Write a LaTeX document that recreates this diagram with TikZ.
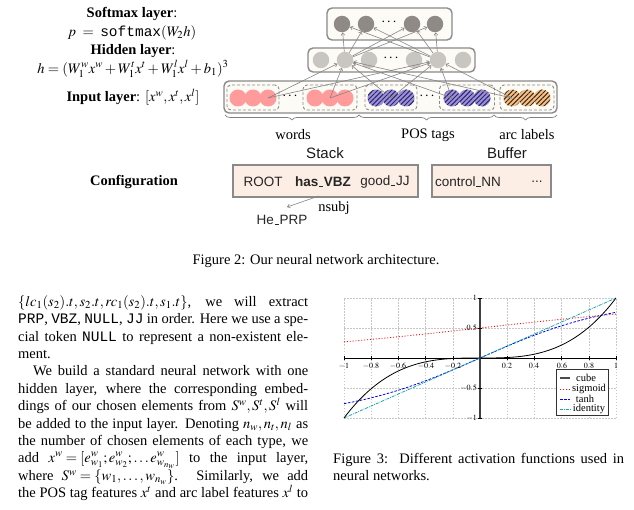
\documentclass[tikz,border=0pt]{standalone}
\usepackage{mathptmx}
\usepackage[no-math]{fontspec}
\setmainfont{Liberation Serif}
\setsansfont{Liberation Sans}
\setmonofont{Liberation Mono}
\usetikzlibrary{arrows.meta,patterns.meta,decorations.pathreplacing}
\definecolor{pinkc}{HTML}{FF9B9B}
\definecolor{purpc}{HTML}{9C8FE3}
\definecolor{orac}{HTML}{F6BF86}
\definecolor{hatchp}{HTML}{2B2A55}
\definecolor{hatcho}{HTML}{3A2A1A}
\definecolor{smc}{HTML}{8F8A86}
\definecolor{hidc}{HTML}{C9C6C1}
\definecolor{boxb}{HTML}{8A8A8A}
\definecolor{boxf}{HTML}{FDFBF6}
\definecolor{stackf}{HTML}{FCEEE4}
\definecolor{arrc}{HTML}{858585}
\definecolor{tealc}{HTML}{1AA5A5}
\newcommand\usc{\kern.05em\rule{.32em}{.06em}\kern.05em}
\begin{document}
\begin{tikzpicture}[x=1pt,y=-1pt,font=\fontsize{14.5}{17.4}\selectfont,
  layerbox/.style={draw=boxb,line width=1.4pt,rounded corners=5pt,fill=boxf,inner sep=0pt},
  grpbox/.style={draw=boxb,line width=0.9pt,rounded corners=4pt,dash pattern=on 3pt off 2pt,inner sep=0pt,minimum height=25pt},
  neur/.style={circle,inner sep=0pt,minimum size=16.5pt},
  smn/.style={neur,fill=smc},
  hdn/.style={neur,fill=hidc},
  inn/.style={circle,inner sep=0pt,minimum size=17pt},
  pkn/.style={inn,fill=pinkc},
  ppn/.style={inn,fill=purpc,postaction={pattern={Lines[angle=45,distance=3.3pt,line width=1pt]},pattern color=hatchp}},
  orn/.style={inn,fill=orac,postaction={pattern={Lines[angle=45,distance=3.3pt,line width=1pt]},pattern color=hatcho}},
  conn/.style={draw=arrc,line width=0.6pt,-{Straight Barb[length=2.5pt,width=4pt]}},
  bracest/.style={draw=gray,line width=0.7pt,decorate,decoration={brace,mirror,amplitude=5pt}},
  cfgbox/.style={draw=boxb,line width=1.1pt,fill=stackf,inner sep=0pt,minimum height=32pt},
  sfl/.style={font=\fontsize{13.5}{16}\selectfont\sffamily,text=black!85},
  sfh/.style={font=\fontsize{15}{17}\selectfont\sffamily,text=black!90},
  gridl/.style={draw=gray!45,line width=0.5pt,dash pattern=on 1.5pt off 1.5pt},
  tickl/.style={font=\fontsize{8}{9}\selectfont,inner sep=0pt},
  legl/.style={font=\fontsize{10.5}{12}\selectfont,inner sep=0pt},
  txtl/.style={anchor=base west,inner sep=0pt}]
\useasboundingbox (0,0) rectangle (634,510);
\fill[white] (0,0) rectangle (634,510);

% ---- left labels of figure 2
\node (smlab) at (132,14) {\textbf{Softmax layer}:};
\node (smeq) at (132,33) {$p \;=\; \texttt{softmax}(W_2h)$};
\node (hlab) at (133,51) {\textbf{Hidden layer}:};
\node (heq) at (133,69) {$h=(W_1^wx^w+W_1^tx^t+W_1^lx^l+b_1)^3$};
\node (ilab) at (133,97) {\textbf{Input layer}: $[x^w,x^t,x^l]$};
\node (cfg) at (134,182) {\textbf{Configuration}};

% ---- layer boxes
\node[layerbox,minimum width=125pt,minimum height=32pt] (smbox) at (389.5,24) {};
\node[layerbox,minimum width=167pt,minimum height=24pt] (hbox) at (391.5,60) {};
\node[layerbox,minimum width=333pt,minimum height=32pt] (inbox) at (390.5,97) {};

% ---- softmax neurons
\node[smn] (s1) at (342,24) {};
\node[smn] (s2) at (366,24) {};
\node[smn] (s3) at (412,24) {};
\node[smn] (s4) at (435,24) {};
\node (sdots) at (389,22) {$\cdots$};
% ---- hidden neurons
\node[hdn] (h1) at (321,60) {};
\node[hdn] (h2) at (345,60) {};
\node[hdn] (h3) at (369,60) {};
\node[hdn] (h4) at (414,60) {};
\node[hdn] (h5) at (438,60) {};
\node[hdn] (h6) at (463,60) {};
\node (hdots) at (391,58) {$\cdots$};

% ---- input groups
\node[grpbox,minimum width=52pt] (g1) at (253,97.5) {};
\node[grpbox,minimum width=54pt] (g2) at (330,97.5) {};
\node[grpbox,minimum width=52pt] (g3) at (391,97.5) {};
\node[grpbox,minimum width=55pt] (g4) at (467,97.5) {};
\node[grpbox,minimum width=54pt] (g5) at (527,97.5) {};
\node[pkn] (p1) at (238,98) {};
\node[pkn] (p2) at (253,98) {};
\node[pkn] (p3) at (268,98) {};
\node[pkn] (p4) at (315,98) {};
\node[pkn] (p5) at (330,98) {};
\node[pkn] (p6) at (345,98) {};
\node[ppn] (u1) at (376,98) {};
\node[ppn] (u2) at (391,98) {};
\node[ppn] (u3) at (406,98) {};
\node[ppn] (u4) at (452,98) {};
\node[ppn] (u5) at (467,98) {};
\node[ppn] (u6) at (482,98) {};
\node[orn] (o1) at (512,98) {};
\node[orn] (o2) at (527,98) {};
\node[orn] (o3) at (542,98) {};
\node (idots1) at (290,96) {$\cdots$};
\node (idots2) at (427,96) {$\cdots$};

% ---- connections
\foreach \s in {p3,p5,u2,u4,o1}
  \foreach \t in {h2,h5}
    \draw[conn] (\s.center) -- (\t);
\foreach \s in {h2,h5}
  \foreach \t in {s1,s2,s3,s4}
    \draw[conn] (\s) -- (\t);

% ---- braces
\coordinate (b0) at (225,115);
\coordinate (b1) at (359,115);
\coordinate (b2) at (494,115);
\coordinate (b3) at (557,115);
\draw[bracest] (b0) -- (b1);
\draw[bracest] (b1) -- (b2);
\draw[bracest] (b2) -- (b3);
\node (wlab) at (293,135) {words};
\node (tlab) at (428,135) {POS tags};
\node (alab) at (527,135) {arc labels};

% ---- configuration
\node[sfh] (stacklab) at (325,153) {Stack};
\node[sfh] (buflab) at (507,153) {Buffer};
\node[cfgbox,minimum width=185pt] (stack) at (325.5,181) {};
\node[cfgbox,minimum width=119pt] (buffer) at (491.5,181) {};
\node[sfl] (root) at (263,182) {ROOT};
\node[sfl,font=\fontsize{13.5}{16}\selectfont\sffamily\bfseries] (has) at (323,182) {has\usc VBZ};
\node[sfl] (good) at (385,182) {good\usc JJ};
\node[sfl] (ctrl) at (468,182) {control\usc NN};
\node[sfl] (bdots) at (537,182) {...};
\node[sfl] (he) at (282,220) {He\usc PRP};
\node (nsubj) at (334,208) {nsubj};
\coordinate (arS) at (319,196);
\coordinate (arE) at (287,207);
\draw[conn] (arS) -- (arE);

\node (cap2) at (316,261) {Figure 2: Our neural network architecture.};

% ---- left column text
\node[txtl] (l1) at (18,306.5) {\makebox[290pt][s]{$\{lc_1(s_2).t, s_2.t, rc_1(s_2).t, s_1.t\}$, we will extract}};
\node[txtl] (l2) at (18,323.9) {\makebox[290pt][s]{\texttt{PRP}, \texttt{VBZ}, \texttt{NULL}, \texttt{JJ} in order. Here we use a spe-}};
\node[txtl] (l3) at (18,341.2) {\makebox[290pt][s]{cial token \texttt{NULL} to represent a non-existent ele-}};
\node[txtl] (l4) at (18,358.6) {ment.};
\node[txtl] (l5) at (33,375.9) {\makebox[275pt][s]{We build a standard neural network with one}};
\node[txtl] (l6) at (18,393.3) {\makebox[290pt][s]{hidden layer, where the corresponding embed-}};
\node[txtl] (l7) at (18,410.7) {\makebox[290pt][s]{dings of our chosen elements from $S^w, S^t, S^l$ will}};
\node[txtl] (l8) at (18,428.0) {\makebox[290pt][s]{be added to the input layer. Denoting $n_w, n_t, n_l$ as}};
\node[txtl] (l9) at (18,445.4) {\makebox[290pt][s]{the number of chosen elements of each type, we}};
\node[txtl] (l10) at (18,462.0) {\makebox[290pt][s]{add \smash{$x^w=[e^w_{w_1};e^w_{w_2};\ldots e^w_{w_{n_w}}]$} to the input layer,}};
\node[txtl] (l11) at (18,480.6) {\makebox[290pt][s]{where \smash{$S^w=\{w_1,\ldots,w_{n_w}\}$}. Similarly, we add}};
\node[txtl] (l12) at (18,497.5) {\makebox[290pt][s]{the POS tag features $x^t$ and arc label features $x^l$ to}};

% ---- plot
\begin{scope}[xshift=480pt,yshift=-358pt,x=136pt,y=60pt]
  \foreach \gx in {-1,-0.8,-0.6,-0.4,-0.2,0.2,0.4,0.6,0.8,1}
    \draw[gridl] (\gx,-1) -- (\gx,1);
  \foreach \gy in {-1,-0.5,0.5,1}
    \draw[gridl] (-1,\gy) -- (1,\gy);
  \draw[black,line width=0.8pt] (-1,0) -- (1,0);
  \draw[black!75,line width=1.1pt] (0,-1) -- (0,1);
  \foreach \gx in {-1,-0.8,-0.6,-0.4,-0.2,0.2,0.4,0.6,0.8,1}
    \draw[black,line width=0.4pt] (\gx,-0.04) -- (\gx,0.04);
  \foreach \gy in {-1,-0.5,0.5,1}
    \draw[black,line width=0.4pt] (-0.015,\gy) -- (0.015,\gy);
  \draw[red,line width=0.9pt,dotted,domain=-1:1,samples=40] plot (\x,{1/(1+exp(-\x))});
  \draw[blue,line width=0.8pt,dash pattern=on 2.5pt off 1.5pt,domain=-1:1,samples=40,smooth] plot (\x,{tanh(\x)});
  \draw[tealc,line width=0.8pt,dash pattern=on 3pt off 1pt on 0.8pt off 1pt] (-1,-1) -- (1,1);
  \draw[black,line width=0.8pt,domain=-1:1,samples=60,smooth] plot (\x,{\x*\x*\x});
\end{scope}
\node[tickl] (tx1) at (344,366) {$-1$};
\node[tickl] (tx2) at (371,366) {$-0.8$};
\node[tickl] (tx3) at (398,366) {$-0.6$};
\node[tickl] (tx4) at (426,366) {$-0.4$};
\node[tickl] (tx5) at (453,366) {$-0.2$};
\node[tickl] (tx6) at (507,366) {$0.2$};
\node[tickl] (tx7) at (534,366) {$0.4$};
\node[tickl] (tx8) at (562,366) {$0.6$};
\node[tickl] (tx9) at (589,366) {$0.8$};
\node[tickl] (tx10) at (616,366) {$1$};
\node[tickl,anchor=east] (ty1) at (477,298) {$1$};
\node[tickl,anchor=east] (ty2) at (477,328) {$0.5$};
\node[tickl,anchor=east] (ty3) at (477,388) {$-0.5$};
\node[tickl,anchor=east] (ty4) at (477,418) {$-1$};
% legend
\node[draw=black!80,fill=white,line width=0.6pt,minimum width=52pt,minimum height=46pt,inner sep=0pt] (leg) at (582.5,392.5) {};
\draw[black!70,line width=1.2pt] (560,378) -- (570,378);
\draw[red,line width=0.9pt,dotted] (560,389) -- (570,389);
\draw[blue,line width=0.8pt,dash pattern=on 2.5pt off 1.5pt] (560,399) -- (570,399);
\draw[tealc,line width=0.8pt,dash pattern=on 3pt off 1pt on 0.8pt off 1pt] (560,409) -- (570,409);
\node[legl] (lg1) at (586,378) {cube};
\node[legl] (lg2) at (589,389) {sigmoid};
\node[legl] (lg3) at (585,399) {tanh};
\node[legl] (lg4) at (589,409) {identity};

% ---- right caption
\node[txtl] (c1) at (333,463) {\makebox[291pt][s]{Figure 3:\ \ Different activation functions used in}};
\node[txtl] (c2) at (333,480.5) {neural networks.};
\end{tikzpicture}
\end{document}
